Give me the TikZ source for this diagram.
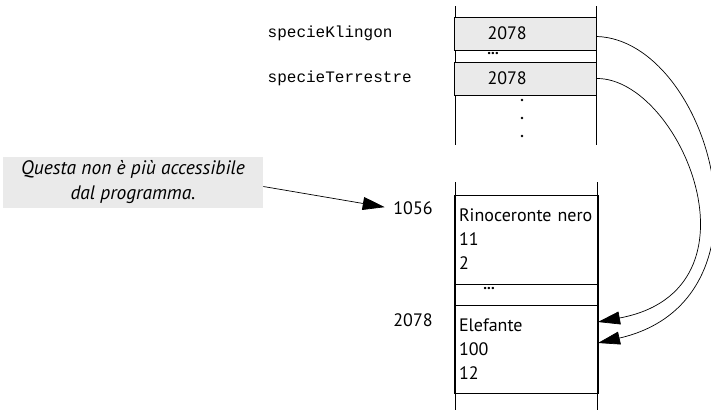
\documentclass[tikz,border=0pt]{standalone}
\usepackage{fontspec}
\setmainfont{PT Sans}
\setmonofont{Liberation Mono}
\usepackage{tikz}
\usetikzlibrary{arrows.meta}
\definecolor{cellgray}{RGB}{234,234,234}

\begin{document}
\begin{tikzpicture}[x=1pt,y=-1pt,line width=0.8pt,
  cell/.style={draw, minimum width=142pt, inner xsep=5pt, align=left,
    text width=134pt, font=\fontsize{18}{24}\selectfont},
  ptr/.style={-{Triangle[length=22pt,width=13pt]}, line width=0.7pt}]
\useasboundingbox (0,0) rectangle (711,410);

% variabili in alto
\draw (455,6) -- (455,145);
\draw (596,6) -- (596,145);
\node [cell, fill=cellgray, minimum height=33pt, inner xsep=33pt, text width=76pt, minimum width=141pt] (k) at (525.5,33.5) {2078};
\node [cell, fill=cellgray, minimum height=33pt, inner xsep=33pt, text width=76pt, minimum width=141pt] (t) at (525.5,78.5) {2078};
\node [inner sep=0pt, font=\fontsize{15}{15}\selectfont\bfseries] (dotsA) at (493,54) {...};
\foreach \y in {100,118,136} \fill (522,\y) circle (1.4pt);
\node [anchor=west, font=\fontsize{16}{16}\ttfamily] (nk) at (264,33) {specieKlingon};
\node [anchor=west, font=\fontsize{16}{16}\ttfamily] (nt) at (264,78) {specieTerrestre};

% oggetti in memoria
\draw (455,182) -- (455,410);
\draw (597,182) -- (597,410);
\node [cell, minimum height=89pt] (r) at (526,239.5) {Rinoceronte nero\\11\\2};
\node [cell, minimum height=21pt] (m) at (526,294.5) {};
\node [inner sep=0pt, font=\fontsize{15}{15}\selectfont\bfseries] (dotsB) at (489,289) {...};
\node [cell, minimum height=88pt] (e) at (526,349) {Elefante\\100\\12};
\draw (455,393) -- (597,393);
\node [font=\fontsize{18}{18}\selectfont] (a1) at (413,208) {1056};
\node [font=\fontsize{18}{18}\selectfont] (a2) at (413,320) {2078};

% nota
\node [fill=cellgray, minimum width=260pt, minimum height=51pt, align=center,
  font=\fontsize{19.5}{25}\selectfont\itshape] (note) at (133,182.5)
  {Questa non è più accessibile\\dal programma.};

\coordinate (inT) at (598,322);
\coordinate (inK) at (598,343);
\draw [ptr, shorten >=5pt] ([yshift=-4pt]note.east) -- (a1.west);
\draw [ptr] ([yshift=-3pt]k.east) .. controls (708,40) and (785,300) .. (inK);
\draw [ptr] (t.east) .. controls (680,78) and (770,290) .. (inT);
\end{tikzpicture}
\end{document}
